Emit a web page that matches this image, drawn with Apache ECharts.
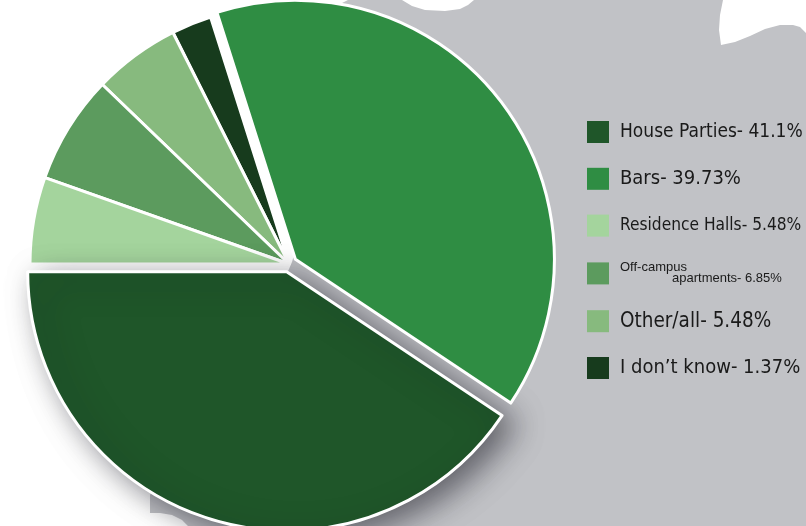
<!DOCTYPE html>
<html>
<head>
<meta charset="utf-8">
<script src="https://cdn.jsdelivr.net/npm/echarts@6/dist/echarts.min.js"></script>
<style>
html,body{margin:0;padding:0;background:#ffffff;}
#chart{width:806px;height:526px;}
</style>
</head>
<body>
<div id="chart"></div>
<script>
// ---- data ----
const categories = ['House Parties', 'Bars', 'Residence Halls', 'Off-campus apartments', 'Other/all', 'I don’t know'];
const percentages = [41.1, 39.73, 5.48, 6.85, 5.48, 1.37];
// order in which the slices run round the pie (counter-clockwise from 9 o'clock)
const pieOrder = ['House Parties', 'Bars', 'I don’t know', 'Other/all', 'Off-campus apartments', 'Residence Halls'];
const explodedSlices = ['House Parties', 'Bars'];

// ---- styles ----
const sliceColors = {
  'House Parties': '#1f5629',
  'Bars': '#2f8d43',
  'Residence Halls': '#a4d49d',
  'Off-campus apartments': '#5c9b5e',
  'Other/all': '#87ba7e',
  'I don’t know': '#173b1d'
};
const legendFontSize = {
  'House Parties': 19,
  'Bars': 20,
  'Residence Halls': 17.2,
  'Off-campus apartments': 13,
  'Other/all': 20.5,
  'I don’t know': 20
};
const FONT = "'DejaVu Sans Condensed', 'Liberation Sans Narrow', 'Liberation Sans', sans-serif";

// decorative grey backdrop outline (pixels)
const backdropOutline = [
  [332,14],[336,8],[342,3],[348,0],[402,0],[412,6],[425,10],[445,11],[460,9],[468,5],[474,0],
  [723,0],[720,15],[719,30],[721,45],[735,42],[750,36],[765,29],[780,25],[793,25],[800,27],[806,33],
  [806,526],[188,526],[182,520],[172,515],[160,513],[150,513],[150,495],[286,276],[292,262],[310,200]
];

const valueOf = name => percentages[categories.indexOf(name)];

const pieData = pieOrder.map(name => {
  const item = {
    name: name,
    value: valueOf(name),
    selected: explodedSlices.indexOf(name) >= 0,
    itemStyle: { color: sliceColors[name] }
  };
  if (name === 'House Parties') {
    item.itemStyle.shadowBlur = 30;
    item.itemStyle.shadowColor = 'rgba(20,20,30,0.55)';
    item.itemStyle.shadowOffsetX = 12;
    item.itemStyle.shadowOffsetY = 8;
  }
  return item;
});

const legendData = categories.map(name => ({
  name: name,
  icon: 'rect',
  itemStyle: { color: sliceColors[name], borderWidth: 0, shadowBlur: 0 },
  textStyle: { fontSize: legendFontSize[name], fontFamily: FONT, lineHeight: 22 }
}));

const chart = echarts.init(document.getElementById('chart'), null, { renderer: 'canvas' });
chart.setOption({
  animation: false,
  backgroundColor: '#ffffff',
  graphic: [{
    type: 'polygon',
    z: 0,
    silent: true,
    shape: { points: backdropOutline },
    style: { fill: '#c1c2c6' }
  }],
  legend: {
    orient: 'vertical',
    left: 587,
    top: 121,
    padding: 0,
    itemWidth: 22,
    itemHeight: 22,
    itemGap: 24.8,
    selectedMode: false,
    itemStyle: { borderWidth: 0, shadowBlur: 0 },
    data: legendData,
    textStyle: {
      color: '#1a1a1a',
      fontFamily: FONT,
      padding: [0, 0, 0, 6],
      rich: {
        a: { fontSize: 13, lineHeight: 11, fontFamily: "'Liberation Sans', sans-serif", color: '#1a1a1a' },
        b: { fontSize: 13, lineHeight: 11, fontFamily: "'Liberation Sans', sans-serif", color: '#1a1a1a', padding: [0, 0, 0, 52] }
      }
    },
    formatter: function (name) {
      const v = valueOf(name);
      if (name === 'Off-campus apartments') {
        return '{a|Off-campus}\n{b|apartments- ' + v + '%}';
      }
      return name + '- ' + v + '%';
    }
  },
  series: [{
    type: 'pie',
    center: [289, 264],
    radius: 259,
    startAngle: 180,
    clockwise: false,
    minAngle: 9,
    selectedMode: 'multiple',
    selectedOffset: 8,
    avoidLabelOverlap: false,
    label: { show: false },
    labelLine: { show: false },
    itemStyle: { borderColor: '#ffffff', borderWidth: 3 },
    data: pieData
  }]
});
</script>
</body>
</html>
